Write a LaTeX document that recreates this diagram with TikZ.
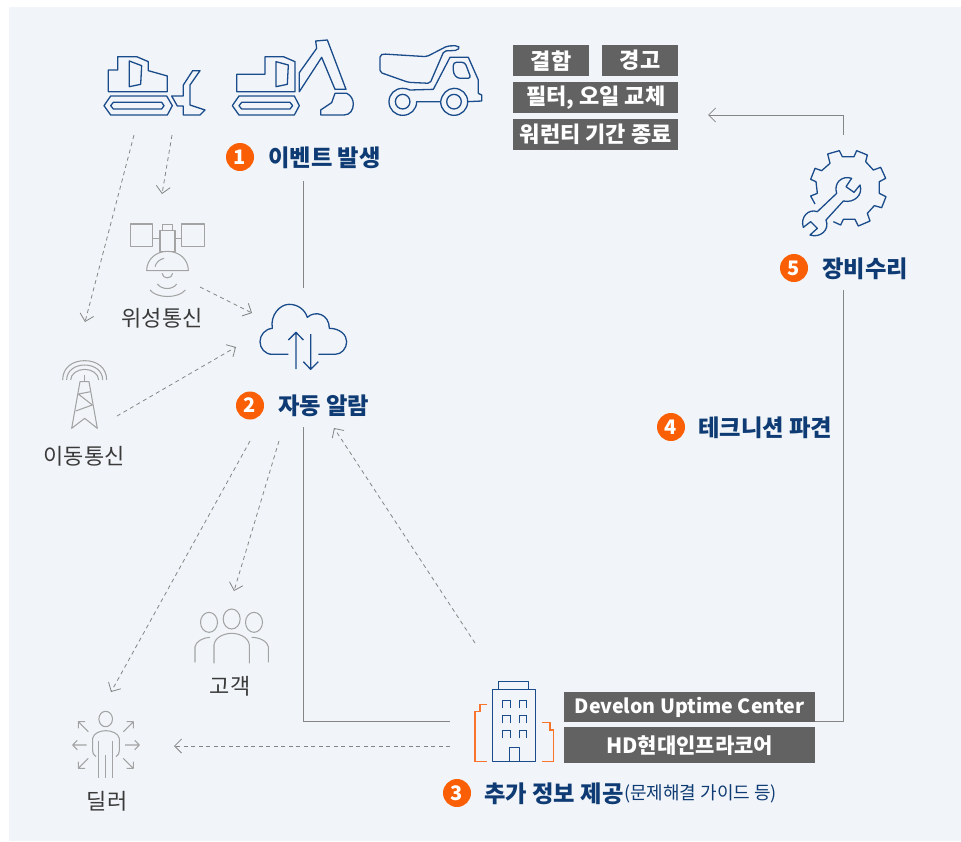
\documentclass[tikz,border=0pt]{standalone}
\usepackage{fontspec}
\setmainfont{Noto Sans CJK KR}
\usetikzlibrary{arrows.meta}
\definecolor{panelbg}{HTML}{F1F5F9}
\definecolor{iconblue}{HTML}{1A4C8B}
\definecolor{textblue}{HTML}{0F3B74}
\definecolor{badge}{HTML}{FB5F05}
\definecolor{boxgray}{HTML}{626262}
\definecolor{icongray}{HTML}{A3A3A3}
\definecolor{linegray}{HTML}{858585}
\definecolor{labelgray}{HTML}{3A3A3A}
\definecolor{bldorange}{HTML}{F9752E}
\tikzset{
  z/.style 2 args={shift={(#1pt,-#2pt)},x=0.33333pt,y=-0.33333pt},
  blueicon/.style={draw=iconblue,line width=1.3pt,line join=round,fill=none},
  grayicon/.style={draw=icongray,line width=1.05pt,line join=round,fill=none},
  flowline/.style={draw=linegray,line width=0.8pt},
  arrowline/.style={draw=linegray,line width=0.8pt,-{Straight Barb[length=7pt,width=14pt,line width=0.8pt]}},
  dashline/.style={draw=linegray,line width=0.8pt,dash pattern=on 4pt off 3.5pt,-{Straight Barb[length=7pt,width=14pt,line width=0.8pt]}},
  graybox/.style={fill=boxgray,text=white,inner sep=0pt,font=\fontsize{22}{26}\selectfont\bfseries,anchor=north west},
  badgenode/.style={circle,fill=badge,text=white,inner sep=0pt,minimum size=28pt,font=\fontsize{20}{20}\selectfont\bfseries},
  steplabel/.style={text=textblue,anchor=west,inner sep=0pt,font=\fontsize{23.3}{26}\selectfont\bfseries},
  grouplabel/.style={text=labelgray,inner sep=0pt,font=\fontsize{22}{25}\selectfont},
}
\begin{document}
\begin{tikzpicture}[x=1pt,y=-1pt]
\useasboundingbox (0,0) rectangle (961,841);
\fill[panelbg] (9,7) rectangle (961,841);

% bulldozer and excavator
\begin{scope}[z={90}{30}]
 \draw[blueicon] (55,185)--(55,120)--(83,120)--(83,80)--(140,80)--(175,95)--(175,122)--(232,138)--(232,185)--cycle;
 \draw[blueicon] (118,93)--(155,107)--(152,163)--(118,170)--cycle;
 \draw[blueicon] (42,227)--(62,198)--(230,198)--(247,227)--(232,255)--(62,255)--cycle;
 \draw[blueicon] (62,227)--(70,217)--(215,217)--(222,227)--(215,237)--(70,237)--cycle;
 \draw[blueicon] (245,198)--(280,198)--(280,165)--(308,122)--(330,122)--(300,165)--(300,225)--(345,240)--(330,255)--(280,255)--(280,228)--(262,228)--cycle;
 \draw[blueicon] (440,185)--(440,133)--(525,133)--(525,80)--(580,80)--(615,95)--(615,185)--cycle;
 \draw[blueicon] (558,95)--(595,105)--(592,163)--(558,170)--cycle;
 \draw[blueicon] (427,227)--(447,198)--(613,198)--(628,227)--(613,255)--(447,255)--cycle;
 \draw[blueicon] (447,227)--(455,217)--(600,217)--(608,227)--(600,237)--(455,237)--cycle;
 \draw[blueicon] (628,185)--(628,128)--(680,55)--(677,33)--(712,30)--(768,178)--(735,178)--(695,82)--cycle;
 \draw[blueicon] (735,190)--(770,190) .. controls (782,195) and (790,208) .. (790,222) .. controls (790,240) and (780,255) .. (762,255)--(692,255)--(692,240)--(725,218)--cycle;
\end{scope}
% dump truck
\begin{scope}[z={370}{30}]
 \draw[blueicon,rounded corners=2pt] (40,72)--(170,80)--(232,48)--(262,47)--(269,53)--(262,61)--(222,63)--(180,160)--(115,157)--(30,127)--(30,75)--cycle;
 \draw[blueicon] (120,180)--(190,178)--(240,82)--(295,82)--(325,150)--(325,190)--(335,195)--(335,213)--(293,215);
 \draw[blueicon,rounded corners=3pt] (250,97)--(285,97)--(303,145)--(262,145)--(250,130)--cycle;
 \draw[blueicon] (98,215) circle[radius=7.3pt];
 \draw[blueicon] (252,215) circle[radius=7.3pt];
 \draw[blueicon] (120,180) .. controls (113,177) and (106,175) .. (98,175) .. controls (75,175) and (57,192) .. (57,215) .. controls (57,238) and (75,256) .. (98,256) .. controls (122,256) and (140,238) .. (140,215)--(212,215) .. controls (212,238) and (230,256) .. (252,256) .. controls (275,256) and (293,238) .. (293,215) .. controls (293,192) and (275,175) .. (252,175) .. controls (232,175) and (215,192) .. (212,215);
\end{scope}
% satellite
\begin{scope}[z={40}{210}]
 \draw[grayicon] (272,42) rectangle (338,110) (425,42) rectangle (493,110) (360,62) rectangle (405,125) (368,43) rectangle (398,62) (338,85)--(360,85) (405,85)--(425,85);
 \draw[grayicon] (320,182) .. controls (320,148) and (348,124) .. (382,124) .. controls (418,124) and (445,148) .. (445,182)--cycle;
 \draw[grayicon] (345,170) .. controls (348,158) and (358,148) .. (372,145);
 \draw[grayicon] (366,190) .. controls (368,208) and (396,208) .. (398,190);
 \draw[grayicon] (352,222) .. controls (365,240) and (398,240) .. (410,222);
 \draw[grayicon] (330,240) .. controls (350,266) and (415,266) .. (436,240);
\end{scope}
% tower
\begin{scope}[z={40}{210}]
 \draw[grayicon] (68,510) .. controls (68,472) and (98,452) .. (134,452) .. controls (170,452) and (200,472) .. (200,510);
 \draw[grayicon] (80,510) .. controls (80,482) and (105,465) .. (134,465) .. controls (163,465) and (188,482) .. (188,510);
 \draw[grayicon] (92,510) .. controls (92,492) and (112,478) .. (134,478) .. controls (156,478) and (176,492) .. (176,510);
 \draw[grayicon] (134,495)--(134,515);
 \draw[grayicon] (95,655)--(120,515)--(147,515)--(172,655)--(134,625)--cycle;
 \draw[grayicon] (115,552)--(152,545) (115,552)--(157,585)--(107,603);
\end{scope}
% cloud
\begin{scope}[z={40}{210}]
 \draw[blueicon] (745,433)--(697,433) .. controls (675,433) and (660,415) .. (660,395) .. controls (660,375) and (675,357) .. (697,355) .. controls (690,315) and (720,283) .. (747,283) .. controls (775,283) and (795,300) .. (802,322) .. controls (825,300) and (868,312) .. (868,355) .. controls (900,355) and (920,375) .. (920,395) .. controls (920,415) and (905,433) .. (885,433)--(835,433);
 \draw[blueicon] (768,477)--(768,367) (745,390)--(768,367)--(790,390);
 \draw[blueicon] (812,372)--(812,478) (790,455)--(812,478)--(835,455);
\end{scope}
% gear and wrench
\begin{scope}[z={780}{140}]
 \draw[blueicon] (105,192)--(92,168)--(112,160)--(108,125)--(92,118)--(105,85)--(125,92)--(150,70)--(143,42)--(178,32)--(187,50)--(222,50)--(230,32)--(262,45)--(257,65)--(280,90)--(302,82)--(317,115)--(298,125)--(298,160)--(318,170)--(305,203)--(283,197)--(262,220)--(270,243)--(235,258)--(225,238)--(190,238)--(182,255)--(160,245);
 \draw[blueicon] (215,115)--(198,140)--(222,157)--(240,135) .. controls (250,165) and (222,190) .. (190,183)--(138,240) .. controls (150,270) and (120,295) .. (90,285)--(112,265)--(92,245)--(70,262) .. controls (60,232) and (85,205) .. (112,215)--(170,160) .. controls (160,130) and (185,105) .. (215,115)--cycle;
\end{scope}
% people
\begin{scope}[z={50}{600}]
 \draw[grayicon] (477,67) ellipse[x radius=8.5pt,y radius=10pt] (545,57) ellipse[x radius=8.5pt,y radius=10pt] (612,67) ellipse[x radius=8.5pt,y radius=10pt];
 \draw[grayicon] (492,190)--(492,135) .. controls (495,110) and (525,100) .. (545,100) .. controls (565,100) and (595,110) .. (598,135)--(598,190);
 \draw[grayicon] (435,187)--(435,140) .. controls (437,125) and (460,112) .. (480,112);
 \draw[grayicon] (655,187)--(655,140) .. controls (653,125) and (630,112) .. (605,112);
 % dealer
 \draw[grayicon] (167,357) ellipse[x radius=6.8pt,y radius=7.7pt];
 \draw[grayicon] (138,470) .. controls (130,465) and (128,460) .. (128,452)--(128,415) .. controls (130,400) and (150,392) .. (167,392) .. controls (185,392) and (205,400) .. (208,415)--(208,452) .. controls (208,460) and (205,465) .. (198,470);
 \draw[grayicon] (145,422)--(145,533) (188,422)--(188,533) (166,465)--(166,533);
 \draw[grayicon] (110,435)--(68,435) (82,421)--(68,435)--(82,449);
 \draw[grayicon] (225,435)--(268,435) (254,421)--(268,435)--(254,449);
 \draw[grayicon] (115,395)--(85,365) (85,385)--(85,365)--(105,365);
 \draw[grayicon] (220,395)--(250,365) (230,365)--(250,365)--(250,385);
 \draw[grayicon] (115,475)--(85,505) (85,485)--(85,505)--(105,505);
 \draw[grayicon] (220,475)--(250,505) (250,485)--(250,505)--(230,505);
\end{scope}
% building
\begin{scope}[z={430}{670}]
 \draw[bldorange,line width=1.4pt] (172,103)--(150,103)--(150,125)--(135,125)--(135,275)--(172,275);
 \draw[bldorange,line width=1.4pt] (337,158)--(360,158)--(360,180)--(370,180)--(370,275)--(337,275);
 \draw[blueicon] (188,58) rectangle (317,275) (205,58)--(205,35)--(295,35)--(295,58) (238,275)--(238,232)--(268,232)--(268,275);
 \foreach \wx in {217,267}\foreach \wy in {92,137,182}
  \draw[draw=iconblue,line width=1pt] (\wx,\wy+23)--(\wx,\wy)--(\wx+23,\wy)--(\wx+23,\wy+23);
\end{scope}

% gray boxes
\node[graybox,minimum width=76pt,minimum height=31pt] (b1) at (513,45) {결함};
\node[graybox,minimum width=76pt,minimum height=31pt] (b2) at (602,45) {경고};
\node[graybox,minimum width=165pt,minimum height=31pt] (b3) at (513,82) {필터, 오일 교체};
\node[graybox,minimum width=165pt,minimum height=31pt] (b4) at (513,119) {워런티 기간 종료};
\node[graybox,minimum width=251pt,minimum height=30pt,font=\fontsize{19.6}{24}\selectfont\bfseries] (b5) at (564,692) {Develon Uptime Center};
\node[graybox,minimum width=251pt,minimum height=36pt,font=\fontsize{21}{24}\selectfont\bfseries] (b6) at (564,727) {HD현대인프라코어};

% badges and step labels
\node[badgenode] (n1) at (240,157) {1};
\node[steplabel] (t1) at (268,157.5) {이벤트 발생};
\node[badgenode] (n2) at (250,405.5) {2};
\node[steplabel] (t2) at (278,406) {자동 알람};
\node[badgenode] (n3) at (457,793) {3};
\node[steplabel] (t3) at (484,793.5) {추가 정보 제공};
\node[text=textblue,anchor=west,inner sep=0pt,font=\fontsize{18}{20}\selectfont] (t3b) at (624,793.5) {(문제해결 가이드 등)};
\node[badgenode] (n4) at (671,427) {4};
\node[steplabel] (t4) at (698,427.5) {테크니션 파견};
\node[badgenode] (n5) at (794,268) {5};
\node[steplabel] (t5) at (822,268.5) {장비수리};

% group labels
\node[grouplabel] (l1) at (162,318) {위성통신};
\node[grouplabel] (l2) at (84,456) {이동통신};
\node[grouplabel] (l3) at (230,686) {고객};
\node[grouplabel] (l4) at (107,801) {딜러};

% connector ends
\coordinate (c1a) at (303,181); \coordinate (c1b) at (303,288);
\coordinate (c2a) at (303,427); \coordinate (c2b) at (303,721); \coordinate (c2c) at (450,721);
\coordinate (c5a) at (815,721); \coordinate (c5b) at (843,721); \coordinate (c5c) at (843,290);
\coordinate (c6a) at (843,135); \coordinate (c6b) at (843,115); \coordinate (c6c) at (708,115);
\coordinate (d1a) at (134,135); \coordinate (d1b) at (85,322);
\coordinate (d2a) at (172,135); \coordinate (d2b) at (162,194);
\coordinate (d3a) at (200,287); \coordinate (d3b) at (252,313);
\coordinate (d4a) at (117,416); \coordinate (d4b) at (236,347);
\coordinate (d5a) at (250,441); \coordinate (d5b) at (111,692);
\coordinate (d6a) at (279,441); \coordinate (d6b) at (234,591);
\coordinate (d7a) at (475,643); \coordinate (d7b) at (334,428);
\coordinate (d8a) at (450,746); \coordinate (d8b) at (174,746);

\draw[flowline] (c1a)--(c1b);
\draw[flowline] (c2a)--(c2b)--(c2c);
\draw[flowline] (c5a)--(c5b)--(c5c);
\draw[arrowline] (c6a)--(c6b)--(c6c);
\foreach \k in {1,...,8} \draw[dashline] (d\k a)--(d\k b);
\end{tikzpicture}
\end{document}
